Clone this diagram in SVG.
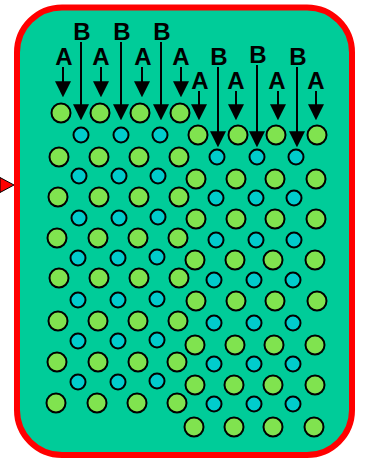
<svg xmlns="http://www.w3.org/2000/svg" width="365" height="460" viewBox="0 0 365 460">
  <style>
    .frame { fill: #00CC99; stroke: #FF0000; stroke-width: 6; }
    .big { fill: #80E34F; stroke: #000; stroke-width: 2; }
    .small { fill: #00CCCC; stroke: #000; stroke-width: 2; }
    .lbl { font-family: "Liberation Sans", Arial, sans-serif; font-weight: bold; font-size: 24px; fill: #000; text-anchor: middle; }
    .shaft { stroke: #000; stroke-width: 2; fill: none; marker-end: url(#head); }
  </style>
  <defs>
    <marker id="head" markerUnits="userSpaceOnUse" markerWidth="16" markerHeight="16" viewBox="0 0 15 15" refX="10" refY="7.5" orient="auto">
      <path d="M0,0 L15,7.5 L0,15 Z" fill="#000"/>
    </marker>
  </defs>

  <!-- container -->
  <rect class="frame" x="17" y="7.5" width="335" height="447.5" rx="45" ry="45"/>
  <!-- inlet pointer on the left edge -->
  <polygon points="0,177.5 14,185 0,192.5" fill="#FF0000" stroke="#000" stroke-width="1"/>

  <!-- left lattice: large atoms -->
  <g id="left-large">
    <circle class="big" cx="61" cy="113" r="9.5"/><circle class="big" cx="100" cy="113" r="9.5"/><circle class="big" cx="140" cy="113" r="9.5"/><circle class="big" cx="180" cy="113" r="9.5"/>
    <circle class="big" cx="59" cy="157" r="9.5"/><circle class="big" cx="99" cy="157" r="9.5"/><circle class="big" cx="139" cy="157" r="9.5"/><circle class="big" cx="179" cy="157" r="9.5"/>
    <circle class="big" cx="58" cy="197" r="9.5"/><circle class="big" cx="99" cy="197" r="9.5"/><circle class="big" cx="139" cy="197" r="9.5"/><circle class="big" cx="179" cy="197" r="9.5"/>
    <circle class="big" cx="57" cy="238" r="9.5"/><circle class="big" cx="98" cy="238" r="9.5"/><circle class="big" cx="138" cy="238" r="9.5"/><circle class="big" cx="178" cy="238" r="9.5"/>
    <circle class="big" cx="59" cy="278" r="9.5"/><circle class="big" cx="99" cy="278" r="9.5"/><circle class="big" cx="139" cy="278" r="9.5"/><circle class="big" cx="179" cy="278" r="9.5"/>
    <circle class="big" cx="58" cy="321" r="9.5"/><circle class="big" cx="98" cy="321" r="9.5"/><circle class="big" cx="138" cy="321" r="9.5"/><circle class="big" cx="178" cy="321" r="9.5"/>
    <circle class="big" cx="57" cy="362" r="9.5"/><circle class="big" cx="98" cy="362" r="9.5"/><circle class="big" cx="138" cy="362" r="9.5"/><circle class="big" cx="177" cy="362" r="9.5"/>
    <circle class="big" cx="56" cy="403" r="9.5"/><circle class="big" cx="97" cy="403" r="9.5"/><circle class="big" cx="137" cy="403" r="9.5"/><circle class="big" cx="177" cy="403" r="9.5"/>
  </g>

  <!-- left lattice: small atoms -->
  <g id="left-small">
    <circle class="small" cx="81" cy="135" r="7.5"/><circle class="small" cx="121" cy="135" r="7.5"/><circle class="small" cx="160" cy="135" r="7.5"/>
    <circle class="small" cx="79" cy="176" r="7.5"/><circle class="small" cx="119" cy="176" r="7.5"/><circle class="small" cx="158" cy="176" r="7.5"/>
    <circle class="small" cx="79" cy="218" r="7.5"/><circle class="small" cx="119" cy="218" r="7.5"/><circle class="small" cx="158" cy="217" r="7.5"/>
    <circle class="small" cx="78" cy="258" r="7.5"/><circle class="small" cx="118" cy="258" r="7.5"/><circle class="small" cx="157" cy="257" r="7.5"/>
    <circle class="small" cx="78" cy="300" r="7.5"/><circle class="small" cx="118" cy="300" r="7.5"/><circle class="small" cx="157" cy="299" r="7.5"/>
    <circle class="small" cx="78" cy="341" r="7.5"/><circle class="small" cx="118" cy="341" r="7.5"/><circle class="small" cx="157" cy="340" r="7.5"/>
    <circle class="small" cx="78" cy="382" r="7.5"/><circle class="small" cx="118" cy="382" r="7.5"/><circle class="small" cx="157" cy="381" r="7.5"/>
  </g>

  <!-- right lattice: large atoms -->
  <g id="right-large">
    <circle class="big" cx="198" cy="135" r="9.5"/><circle class="big" cx="238" cy="135" r="9.5"/><circle class="big" cx="276" cy="135" r="9.5"/><circle class="big" cx="317" cy="135" r="9.5"/>
    <circle class="big" cx="196" cy="179" r="9.5"/><circle class="big" cx="236" cy="179" r="9.5"/><circle class="big" cx="275" cy="179" r="9.5"/><circle class="big" cx="316" cy="179" r="9.5"/>
    <circle class="big" cx="196" cy="219" r="9.5"/><circle class="big" cx="236" cy="219" r="9.5"/><circle class="big" cx="275" cy="219" r="9.5"/><circle class="big" cx="316" cy="219" r="9.5"/>
    <circle class="big" cx="195" cy="260" r="9.5"/><circle class="big" cx="235" cy="260" r="9.5"/><circle class="big" cx="273" cy="260" r="9.5"/><circle class="big" cx="315" cy="260" r="9.5"/>
    <circle class="big" cx="196" cy="301" r="9.5"/><circle class="big" cx="236" cy="301" r="9.5"/><circle class="big" cx="275" cy="301" r="9.5"/><circle class="big" cx="317" cy="301" r="9.5"/>
    <circle class="big" cx="195" cy="345" r="9.5"/><circle class="big" cx="235" cy="345" r="9.5"/><circle class="big" cx="274" cy="345" r="9.5"/><circle class="big" cx="315" cy="345" r="9.5"/>
    <circle class="big" cx="195" cy="385" r="9.5"/><circle class="big" cx="234" cy="385" r="9.5"/><circle class="big" cx="273" cy="385" r="9.5"/><circle class="big" cx="315" cy="385" r="9.5"/>
    <circle class="big" cx="194" cy="427" r="9.5"/><circle class="big" cx="234" cy="427" r="9.5"/><circle class="big" cx="273" cy="427" r="9.5"/><circle class="big" cx="314" cy="427" r="9.5"/>
  </g>

  <!-- right lattice: small atoms -->
  <g id="right-small">
    <circle class="small" cx="217" cy="157" r="7.5"/><circle class="small" cx="257" cy="157" r="7.5"/><circle class="small" cx="296" cy="157" r="7.5"/>
    <circle class="small" cx="216" cy="198" r="7.5"/><circle class="small" cx="256" cy="198" r="7.5"/><circle class="small" cx="294" cy="198" r="7.5"/>
    <circle class="small" cx="216" cy="240" r="7.5"/><circle class="small" cx="256" cy="240" r="7.5"/><circle class="small" cx="294" cy="240" r="7.5"/>
    <circle class="small" cx="214" cy="280" r="7.5"/><circle class="small" cx="254" cy="280" r="7.5"/><circle class="small" cx="293" cy="280" r="7.5"/>
    <circle class="small" cx="214" cy="323" r="7.5"/><circle class="small" cx="254" cy="323" r="7.5"/><circle class="small" cx="293" cy="323" r="7.5"/>
    <circle class="small" cx="214" cy="364" r="7.5"/><circle class="small" cx="254" cy="364" r="7.5"/><circle class="small" cx="293" cy="364" r="7.5"/>
    <circle class="small" cx="214" cy="404" r="7.5"/><circle class="small" cx="254" cy="404" r="7.5"/><circle class="small" cx="293" cy="404" r="7.5"/>
  </g>

  <!-- incoming species arrows -->
  <g id="arrows">
    <line class="shaft" x1="63" y1="67" x2="63" y2="92"/>
    <line class="shaft" x1="101" y1="67" x2="101" y2="92"/>
    <line class="shaft" x1="142" y1="67" x2="142" y2="92"/>
    <line class="shaft" x1="181" y1="67" x2="181" y2="92"/>
    <line class="shaft" x1="81" y1="42" x2="81" y2="115"/>
    <line class="shaft" x1="121" y1="42" x2="121" y2="115"/>
    <line class="shaft" x1="161" y1="42" x2="161" y2="115"/>
    <line class="shaft" x1="199" y1="91" x2="199" y2="115"/>
    <line class="shaft" x1="236" y1="91" x2="236" y2="115"/>
    <line class="shaft" x1="278" y1="91" x2="278" y2="115"/>
    <line class="shaft" x1="316" y1="91" x2="316" y2="115"/>
    <line class="shaft" x1="218" y1="67" x2="218" y2="142"/>
    <line class="shaft" x1="257" y1="65" x2="257" y2="142"/>
    <line class="shaft" x1="297" y1="67" x2="297" y2="142"/>
  </g>

  <!-- species labels -->
  <g id="labels">
    <text class="lbl" x="64" y="65">A</text>
    <text class="lbl" x="101" y="65">A</text>
    <text class="lbl" x="143" y="65">A</text>
    <text class="lbl" x="181" y="65">A</text>
    <text class="lbl" x="82" y="40">B</text>
    <text class="lbl" x="122" y="40">B</text>
    <text class="lbl" x="162" y="40">B</text>
    <text class="lbl" x="200" y="89">A</text>
    <text class="lbl" x="236" y="89">A</text>
    <text class="lbl" x="277" y="89">A</text>
    <text class="lbl" x="316" y="89">A</text>
    <text class="lbl" x="219" y="65">B</text>
    <text class="lbl" x="258" y="63">B</text>
    <text class="lbl" x="298" y="65">B</text>
  </g>
</svg>
